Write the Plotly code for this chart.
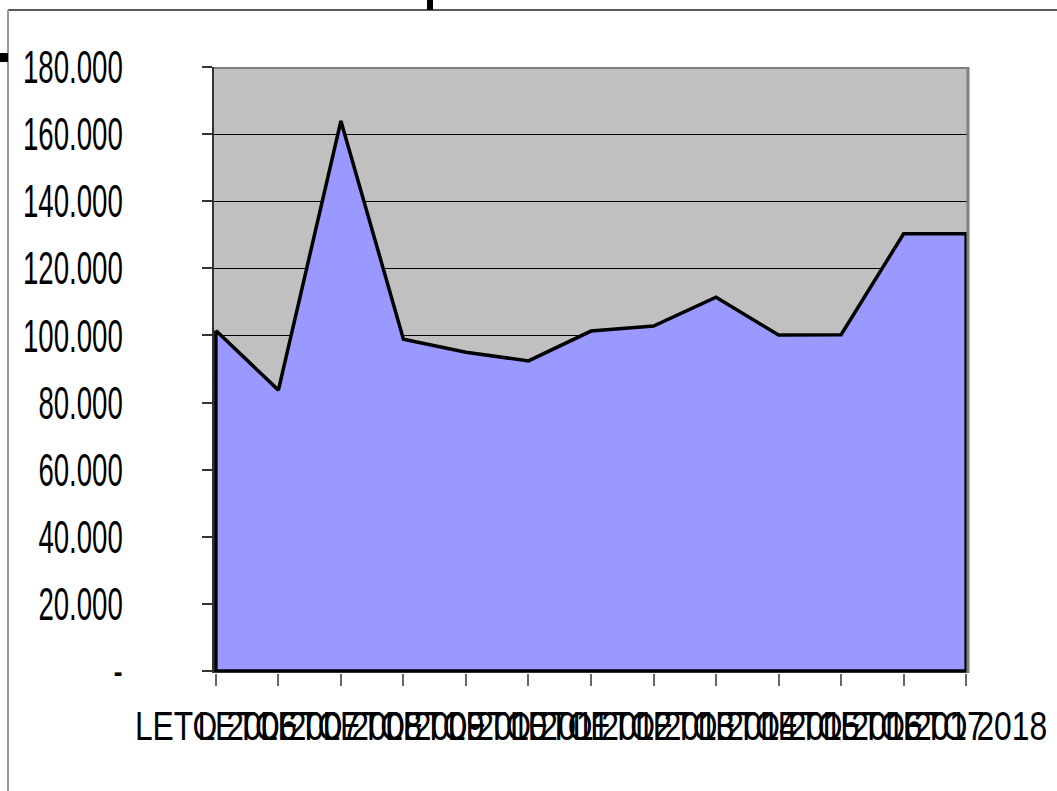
import plotly.graph_objects as go

categories = ["LETO 2006", "LETO 2007", "LETO 2008", "LETO 2009", "LETO 2010",
              "LETO 2011", "LETO 2012", "LETO 2013", "LETO 2014", "LETO 2015",
              "LETO 2016", "LETO 2017", "LETO 2018"]
values = [101500, 83700, 163900, 98900, 95000, 92400, 101300, 102800,
          111400, 100100, 100200, 130300, 130300]
y_tickvals = [0, 20000, 40000, 60000, 80000, 100000, 120000, 140000, 160000, 180000]
y_ticktext = ["-", "20.000", "40.000", "60.000", "80.000", "100.000",
              "120.000", "140.000", "160.000", "180.000"]

W, H = 1057, 791
L, R, T, B = 214, 89, 67, 118
PW, PH = W - L - R, H - T - B


def px(x):
    return (x - L) / PW


def py(y):
    return (H - B - y) / PH


FONT = "Liberation Sans, Arial, sans-serif"

fig = go.Figure()
# closed polygon so the outline runs round the whole area, like the original
fig.add_trace(go.Scatter(
    x=categories + [categories[-1], categories[0], categories[0]],
    y=values + [0, 0, values[0]],
    mode="lines",
    fill="toself",
    fillcolor="#9999FF",
    line=dict(color="black", width=3.5),
    hoverinfo="skip",
    showlegend=False,
))

shapes = [
    # plot-area top and right borders (grey)
    dict(type="line", xref="paper", yref="y", x0=0, x1=1, y0=180000, y1=180000,
         line=dict(color="#808080", width=4), layer="above"),
    dict(type="line", xref="paper", yref="paper", x0=1, x1=1, y0=0, y1=1,
         line=dict(color="#808080", width=3), layer="above"),
    # chart border
    dict(type="line", xref="paper", yref="paper", x0=px(8), x1=px(1100), y0=py(10), y1=py(10),
         line=dict(color="#222222", width=1.5), layer="above"),
    dict(type="line", xref="paper", yref="paper", x0=px(8), x1=px(8), y0=py(10), y1=py(820),
         line=dict(color="#999999", width=2), layer="above"),
    # selection handles
    dict(type="rect", xref="paper", yref="paper", x0=px(0), x1=px(8), y0=py(53), y1=py(62),
         fillcolor="black", line=dict(width=0), layer="above"),
    dict(type="rect", xref="paper", yref="paper", x0=px(427), x1=px(433), y0=py(0), y1=py(10),
         fillcolor="black", line=dict(width=0), layer="above"),
]

fig.update_layout(
    width=W, height=H,
    margin=dict(l=L, r=R, t=T, b=B, autoexpand=False),
    paper_bgcolor="white",
    plot_bgcolor="#C0C0C0",
    font=dict(family=FONT, color="black"),
    shapes=shapes,
    showlegend=False,
)
fig.update_xaxes(
    type="category",
    categoryorder="array", categoryarray=categories,
    range=[-0.03, len(categories) - 1 + 0.03],
    tickmode="linear", tick0=0, dtick=1,
    tickangle=0,
    showgrid=False, zeroline=False, showline=False,
    ticks="outside", ticklen=12, tickwidth=1.5, tickcolor="#666666",
    tickfont=dict(size=40, family=FONT, color="black"),
    ticklabelstandoff=6,
    automargin=False,
)
fig.update_yaxes(
    range=[-600, 180000],
    tickmode="array", tickvals=y_tickvals, ticktext=y_ticktext,
    showgrid=True, gridcolor="black", gridwidth=1,
    zeroline=False,
    showline=True, linecolor="#333333", linewidth=2,
    ticks="outside", ticklen=10, tickwidth=1.5, tickcolor="#333333",
    tickfont=dict(size=46, family=FONT, color="black"),
    ticklabelstandoff=70,
    automargin=False,
)

post = """
document.body.style.margin = '0';
document.body.style.overflow = 'hidden';
var gd = document.getElementById('{plot_id}');
function squeeze(){
  gd.querySelectorAll('.ytick text').forEach(function(t){
    if (t.hasAttribute('textLength')) return;
    var w = t.getComputedTextLength();
    t.setAttribute('textLength', (w*0.6).toFixed(1));
    t.setAttribute('lengthAdjust', 'spacingAndGlyphs');
  });
  gd.querySelectorAll('.xtick text').forEach(function(t){
    if (t.hasAttribute('textLength')) return;
    t.setAttribute('textLength', '162');
    t.setAttribute('lengthAdjust', 'spacingAndGlyphs');
  });
}
squeeze();
gd.on('plotly_afterplot', squeeze);
"""

fig.write_html("out.html", post_script=post, config={"responsive": False, "displayModeBar": False})
